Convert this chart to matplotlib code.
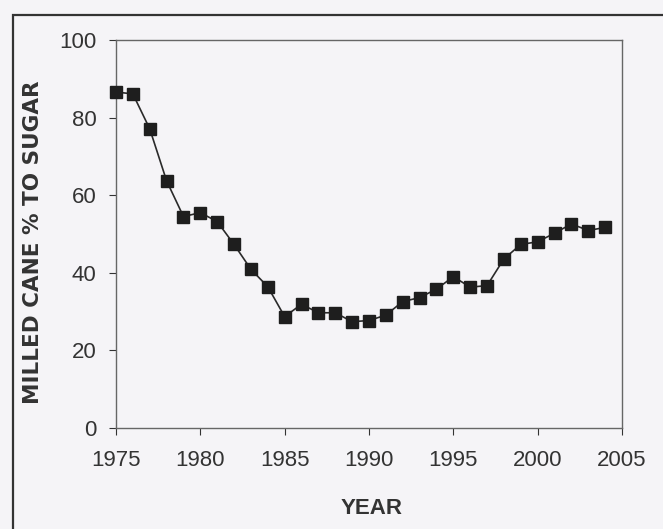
import matplotlib
matplotlib.use("Agg")
import matplotlib.pyplot as plt
from matplotlib.patches import Rectangle

plt.rcParams['font.family'] = ['Liberation Sans', 'DejaVu Sans']

# milled cane % to sugar
years = list(range(1975, 2005))
pct_sugar = [86.6, 86.1, 77.1, 63.7, 54.5, 55.5, 53.2, 47.3, 40.9, 36.4,
             28.7, 31.9, 29.7, 29.7, 27.4, 27.7, 29.1, 32.6, 33.6, 35.8,
             39.0, 36.3, 36.7, 43.6, 47.3, 48.0, 50.2, 52.6, 50.9, 51.7]

x_ticks = [1975, 1980, 1985, 1990, 1995, 2000, 2005]
y_ticks = [0, 20, 40, 60, 80, 100]

bg = '#f5f4f7'
ink = '#2a2a2a'
W, H = 663, 529

fig = plt.figure(figsize=(W / 100, H / 100), dpi=100, facecolor=bg)
ax = fig.add_axes([116 / W, 1 - 428 / H, (622 - 116) / W, (428 - 40) / H])
ax.set_facecolor(bg)

ax.plot(years, pct_sugar, color=ink, lw=1.2, marker='s', ms=9,
        mfc='#1e1e1e', mec='#1e1e1e', clip_on=False, zorder=3)

ax.set_xlim(1975, 2005)
ax.set_ylim(0, 100)
ax.set_xticks(x_ticks)
ax.set_yticks(y_ticks)
ax.tick_params(labelsize=16, colors='#333333', length=5, width=0.8)
ax.tick_params(axis='x', pad=11)
ax.tick_params(axis='y', pad=9)
for s in ax.spines.values():
    s.set_color('#666666')
    s.set_linewidth(1.0)

# axis titles placed in pixel coordinates
fig.text(372 / W, 1 - 508 / H, 'YEAR', fontsize=16, fontweight='bold',
         color='#333333', ha='center', va='center')
fig.text(33 / W, 1 - 242 / H, 'MILLED CANE % TO SUGAR', fontsize=15.5,
         fontweight='bold', family='DejaVu Sans', color='#333333',
         rotation=90, ha='center', va='center')

# outer frame around the figure (cut off at right and bottom)
frame = Rectangle((13 / W, -0.05), 1.0, 1 - 15 / H + 0.05,
                  transform=fig.transFigure, fill=False,
                  edgecolor='#333333', lw=1.6)
fig.add_artist(frame)

fig.savefig('out.png', dpi=100, facecolor=bg)
